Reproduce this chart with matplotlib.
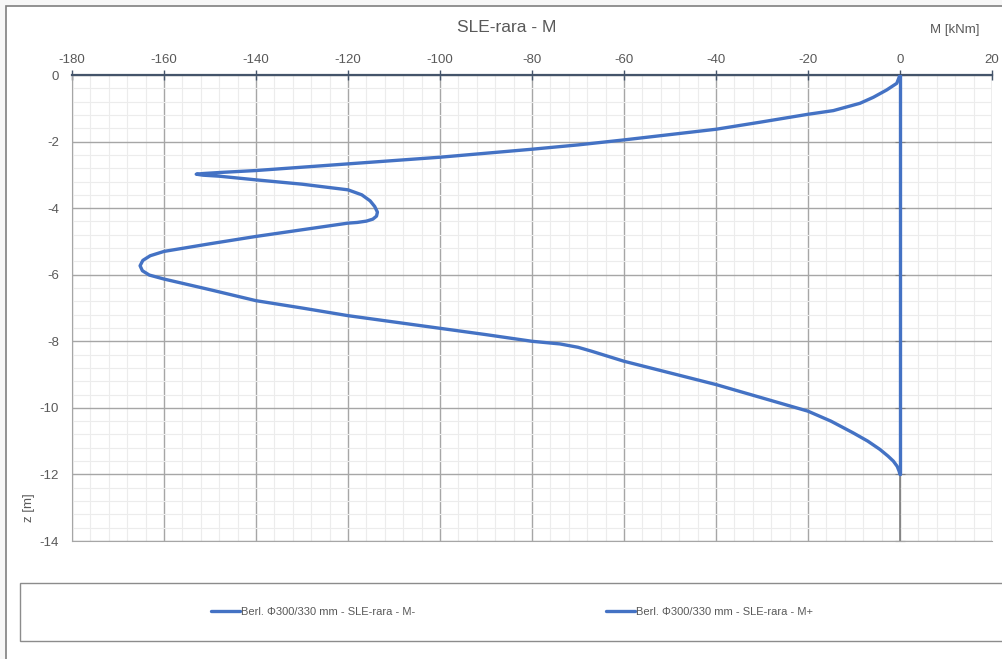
import matplotlib
matplotlib.use("Agg")
import matplotlib.pyplot as plt
from matplotlib.ticker import MultipleLocator
from matplotlib.patches import Rectangle

# Bending moment envelope along the pile (M in kNm, z in m)
m_neg = [0, -0.7, -2.9, -5.8, -8.7, -14.5, -20, -30.5, -40, -60, -70, -80, -100,
         -120, -140, -148, -151.5, -153, -151.5, -148, -140, -130, -120, -117,
         -115.2, -114.2, -113.6, -113.8, -114.6, -116, -118, -120, -130, -140,
         -150, -160, -163, -164.6, -165.2, -164.7, -163.2, -160, -150, -140, -130,
         -120, -110, -100, -90, -80, -73.9, -70, -67, -60, -50, -40, -30, -20,
         -15, -10.2, -7, -4.35, -2.6, -1.45, -0.6, -0.2, 0]
z_neg = [0, -0.25, -0.45, -0.67, -0.85, -1.07, -1.18, -1.42, -1.63, -1.95, -2.1,
         -2.23, -2.47, -2.67, -2.87, -2.93, -2.96, -2.98, -3.01, -3.04, -3.15,
         -3.28, -3.45, -3.6, -3.78, -3.95, -4.12, -4.24, -4.33, -4.39, -4.43,
         -4.45, -4.65, -4.85, -5.07, -5.3, -5.43, -5.57, -5.73, -5.88, -6.01,
         -6.13, -6.45, -6.78, -7.0, -7.23, -7.42, -7.61, -7.8, -8.0, -8.08,
         -8.18, -8.3, -8.6, -8.95, -9.3, -9.7, -10.1, -10.4, -10.75, -11.0,
         -11.25, -11.45, -11.6, -11.76, -11.9, -12.0]
m_pos = [0, 0]
z_pos = [0, -12.0]

labels = ["Berl. \u03a6300/330 mm - SLE-rara - M-",
          "Berl. \u03a6300/330 mm - SLE-rara - M+"]
x_ticks = list(range(-180, 21, 20))
y_ticks = list(range(-14, 1, 2))

plt.rcParams['font.family'] = ['Liberation Sans', 'DejaVu Sans']
plt.rcParams['axes.unicode_minus'] = False
txt = '#595959'
blue = '#4472C4'

W, H = 1003, 659
fig = plt.figure(figsize=(W / 100, H / 100), dpi=100, facecolor='#f7f7f7')

# outer chart frame
fig.patches.append(Rectangle((6 / W, -0.05), 1.2, 1 - 6 / H + 0.05,
                             transform=fig.transFigure, facecolor='#ffffff',
                             edgecolor='#7f7f7f', linewidth=1.2, zorder=-5))

ax = fig.add_axes([72 / W, 1 - 541 / H, (992 - 72) / W, (541 - 75) / H])
ax.set_facecolor('white')
ax.set_xlim(-180, 20)
ax.set_ylim(-14, 0)
ax.set_xticks(x_ticks)
ax.set_yticks(y_ticks)
ax.xaxis.set_minor_locator(MultipleLocator(4))
ax.yaxis.set_minor_locator(MultipleLocator(0.4))
ax.grid(which='major', color='#a6a6a6', linewidth=1.0)
ax.grid(which='minor', color='#ececec', linewidth=0.8)
ax.set_axisbelow(True)

# horizontal axis along z = 0 with labels on top
ax.xaxis.set_ticks_position('top')
ax.xaxis.set_label_position('top')
ax.tick_params(axis='x', which='major', direction='inout', length=7,
               color='#44546a', width=1, labelcolor=txt, labelsize=9.5, pad=3)
ax.tick_params(axis='x', which='minor', length=0)
ax.spines['top'].set_color('#44546a')
ax.spines['top'].set_linewidth(1.6)
ax.spines['bottom'].set_color('#a6a6a6')
ax.spines['left'].set_color('#a6a6a6')

# vertical axis crossing at M = 0, labels kept at the left edge
ax.spines['right'].set_position(('data', 0))
ax.spines['right'].set_color('#7f7f7f')
ax.spines['right'].set_linewidth(1.2)
ax.tick_params(axis='y', which='major', left=False, right=True,
               labelleft=True, labelright=False, direction='inout',
               length=7, color='#7f7f7f', labelcolor=txt, labelsize=9.5, pad=6)
ax.tick_params(axis='y', which='minor', left=False, right=False)

l1, = ax.plot(m_neg, z_neg, color=blue, linewidth=2.4, solid_joinstyle='round',
              solid_capstyle='round', zorder=5)
l2, = ax.plot(m_pos, z_pos, color=blue, linewidth=2.4, solid_capstyle='round',
              zorder=5)

fig.text(507 / W, 1 - 28 / H, "SLE-rara - M", ha='center', va='center',
         fontsize=12.5, color=txt)
fig.text(955 / W, 1 - 30 / H, "M [kNm]", ha='center', va='center',
         fontsize=9.5, color=txt)
fig.text(29 / W, 1 - 508 / H, "z [m]", ha='center', va='center',
         fontsize=9.5, color=txt, rotation=90)

# legend box
fig.patches.append(Rectangle((20 / W, 1 - 641 / H), (1003 - 20) / W, 58 / H,
                             transform=fig.transFigure, facecolor='white',
                             edgecolor='#8c8c8c', linewidth=1.0, zorder=1))
fig.legend([l1, l2], labels, loc='center', bbox_to_anchor=(512 / W, 1 - 612 / H),
           ncol=2, frameon=False, fontsize=8, handlelength=2.6,
           handletextpad=0.1, columnspacing=17.1, labelcolor=txt)

fig.savefig("out.png", dpi=100, facecolor=fig.get_facecolor())
